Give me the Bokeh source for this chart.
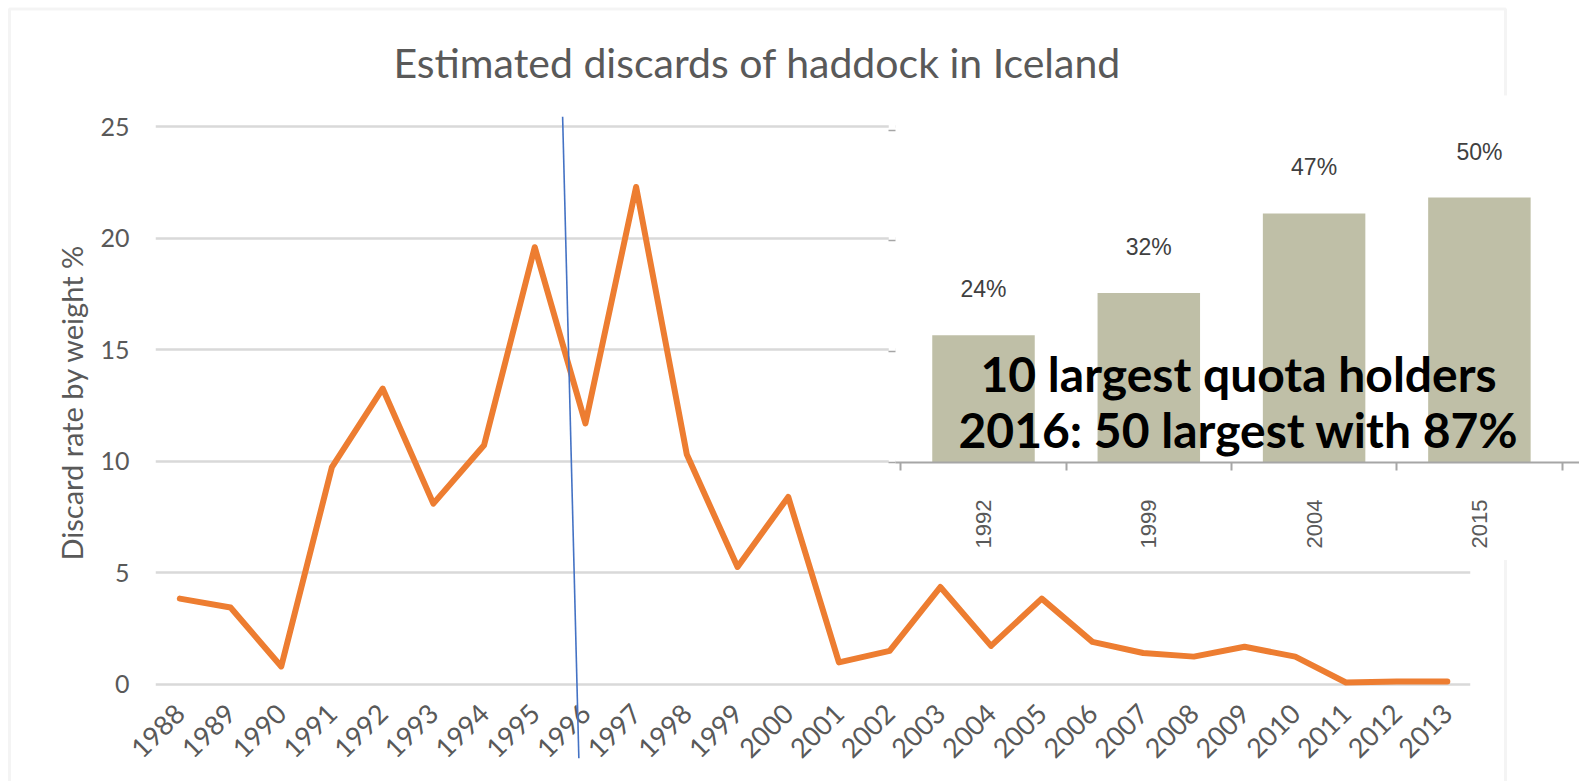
import math
from bokeh.plotting import figure
from bokeh.models import (Range1d, FixedTicker, Label, Spacer, GridBox,
                          BoxAnnotation)
from bokeh.embed import file_html
from bokeh.resources import INLINE
from bokeh.core.properties import value

# ---------------- data ----------------
years = list(range(1988, 2014))
discard_rate = [3.84, 3.44, 0.8, 9.74, 13.26, 8.1, 10.72, 19.6, 11.7, 22.3,
                10.3, 5.26, 8.4, 0.98, 1.5, 4.36, 1.72, 3.84, 1.9, 1.4,
                1.24, 1.68, 1.24, 0.08, 0.12, 0.12]
y_ticks = [0, 5, 10, 15, 20, 25]
marker_x = [1995.55, 1995.87]     # hand-drawn policy marker line
marker_y = [25.45, -3.32]

quota_years = ["1992", "1999", "2004", "2015"]
quota_share = [24, 32, 47, 50]
quota_labels = [f"{v}%" for v in quota_share]
note_lines = ["10 largest quota holders", "2016: 50 largest with 87%"]
title_text = "Estimated discards of haddock in Iceland"
y_title = "Discard rate by weight %"

GRAY_TXT = "#595959"
GRID = "#D9D9D9"
FONT = "Lato"

W, H = 1579, 781          # whole picture
INSET_X, INSET_Y = 888, 95
INSET_W, INSET_H = W - INSET_X, 465

# main frame geometry (pixels)
F_LEFT, F_RIGHT, F_TOP, F_H = 155, 1470, 118, 568
PX_YEAR, PX_VAL = 50.7, 22.3
X0 = 1987.52
Y0 = -0.1
x_end = X0 + (F_RIGHT - F_LEFT) / PX_YEAR
y_end = Y0 + F_H / PX_VAL

# ---------------- main chart ----------------
p = figure(width=W, height=H, output_backend="svg", toolbar_location=None,
           x_range=Range1d(X0, x_end), y_range=Range1d(Y0, y_end),
           min_border_left=F_LEFT, min_border_right=W - F_RIGHT,
           min_border_top=F_TOP, min_border_bottom=H - F_TOP - F_H,
           background_fill_color="white", border_fill_color="white",
           outline_line_color=None, frame_align=False)

p.title.text = title_text
p.title.align = "left"
p.title.offset = 238
p.title.standoff = 63
p.title.text_font = FONT
p.title.text_font_size = "41px"
p.title.text_font_style = "normal"
p.title.text_color = GRAY_TXT

p.line(years, discard_rate, line_color="#ED7D31", line_width=6,
       line_join="round", line_cap="round")

p.yaxis.ticker = FixedTicker(ticks=y_ticks, minor_ticks=[])
p.yaxis.axis_line_color = None
p.yaxis.major_tick_line_color = None
p.yaxis.minor_tick_line_color = None
p.yaxis.major_tick_out = 0
p.yaxis.major_tick_in = 0
p.yaxis.major_label_standoff = 26
p.yaxis.major_label_text_font = FONT
p.yaxis.major_label_text_font_size = "25px"
p.yaxis.major_label_text_color = GRAY_TXT
p.yaxis.axis_label = y_title
p.yaxis.axis_label_text_font = FONT
p.yaxis.axis_label_text_font_style = "normal"
p.yaxis.axis_label_text_font_size = "29px"
p.yaxis.axis_label_text_color = GRAY_TXT
p.yaxis.axis_label_standoff = 8

p.xaxis.ticker = FixedTicker(ticks=years, minor_ticks=[])
p.xaxis.major_label_orientation = math.pi / 4
p.xaxis.axis_line_color = None
p.xaxis.major_tick_line_color = None
p.xaxis.minor_tick_line_color = None
p.xaxis.major_tick_out = 0
p.xaxis.major_tick_in = 0
p.xaxis.major_label_standoff = 22
p.xaxis.major_label_text_font = FONT
p.xaxis.major_label_text_font_size = "27px"
p.xaxis.major_label_text_color = GRAY_TXT

p.xgrid.grid_line_color = None
p.ygrid.grid_line_color = GRID
p.ygrid.grid_line_width = 2.5

# ---------------- transparent overlay (marker line + chart border) ----------
o = figure(width=W, height=H, output_backend="svg", toolbar_location=None,
           x_range=Range1d(0, W), y_range=Range1d(H, 0),
           x_axis_location=None, y_axis_location=None,
           min_border_left=0, min_border_right=0, min_border_top=0,
           min_border_bottom=0, background_fill_color=None,
           border_fill_color=None, outline_line_color=None, frame_align=False)
o.xgrid.grid_line_color = None
o.ygrid.grid_line_color = None
o.extra_x_ranges = {"yr": Range1d(X0 - F_LEFT / PX_YEAR, X0 + (W - F_LEFT) / PX_YEAR)}
o.extra_y_ranges = {"val": Range1d(Y0 - (H - F_TOP - F_H) / PX_VAL,
                                   Y0 + (F_H + F_TOP) / PX_VAL)}
o.segment(x0=[marker_x[0]], y0=[marker_y[0]], x1=[marker_x[1]], y1=[marker_y[1]],
          line_color="#4472C4", line_width=1.6,
          x_range_name="yr", y_range_name="val")
o.add_layout(BoxAnnotation(left=9, right=1505, top=8.5, bottom=H + 20,
                           fill_color=None, line_color=GRID, line_width=3))

# ---------------- inset bar chart ----------------
idx = list(range(len(quota_years)))
IN_LEFT = 7
IN_BOTTOM = 462 - INSET_Y            # baseline (pixels from inset top)
PX_PCT = 5.3
PX_CAT = 165.3
xi0 = (INSET_X + IN_LEFT - 983) / PX_CAT
q = figure(width=INSET_W, height=INSET_H, output_backend="svg",
           toolbar_location=None,
           x_range=Range1d(xi0, xi0 + (INSET_W - IN_LEFT) / PX_CAT),
           y_range=Range1d(0, IN_BOTTOM / PX_PCT),
           min_border_left=IN_LEFT, min_border_right=0, min_border_top=0,
           min_border_bottom=INSET_H - IN_BOTTOM,
           background_fill_color="white", border_fill_color="white",
           outline_line_color=None, frame_align=False)

q.vbar(x=idx, top=quota_share, width=0.62, fill_color="#BFBFA7", line_color=None)
q.text(x=idx, y=quota_share, text=quota_labels, y_offset=-46,
       text_align="center", text_baseline="middle",
       text_font=value("Liberation Sans"), text_font_size="23px",
       text_color="#404040")

q.xaxis.ticker = FixedTicker(ticks=idx, minor_ticks=[-0.5, 0.5, 1.5, 2.5, 3.5])
q.xaxis.major_label_overrides = {i: y for i, y in zip(idx, quota_years)}
q.xaxis.major_label_orientation = math.pi / 2
q.xaxis.major_tick_out = 0
q.xaxis.major_tick_in = 0
q.xaxis.major_tick_line_color = None
q.xaxis.minor_tick_out = 8
q.xaxis.minor_tick_in = 0
q.xaxis.minor_tick_line_color = "#A6A6A6"
q.xaxis.minor_tick_line_width = 2
q.xaxis.axis_line_color = "#A6A6A6"
q.xaxis.axis_line_width = 2
q.xaxis.major_label_standoff = 29
q.xaxis.major_label_text_font = "Liberation Sans"
q.xaxis.major_label_text_font_size = "22px"
q.xaxis.major_label_text_color = GRAY_TXT

inset_ticks = [0, 20.9, 41.8, 62.7]
q.yaxis.ticker = FixedTicker(ticks=inset_ticks, minor_ticks=[])
q.yaxis.major_label_overrides = {t: "" for t in inset_ticks}
q.yaxis.axis_line_color = None
q.yaxis.major_tick_out = 7
q.yaxis.major_tick_in = 0
q.yaxis.major_tick_line_color = "#A6A6A6"
q.yaxis.major_tick_line_width = 1.5
q.yaxis.major_label_standoff = 0

q.xgrid.grid_line_color = None
q.ygrid.grid_line_color = None

for line, yy in zip(note_lines, [16.85, 6.3]):
    q.add_layout(Label(x=1.543, y=yy, text=line, text_align="center",
                       text_baseline="alphabetic", text_font=FONT,
                       text_font_style="bold", text_font_size="48px",
                       text_color="black"))

# ---------------- overlay layout ----------------
layout = GridBox(children=[
    (Spacer(width=INSET_X, height=INSET_Y), 0, 0),
    (Spacer(width=INSET_X, height=H - INSET_Y - INSET_H), 2, 0),
    (p, 0, 0, 3, 2),
    (o, 0, 0, 3, 2),
    (q, 1, 1),
])

open("out.html", "w").write(file_html(layout, INLINE))
